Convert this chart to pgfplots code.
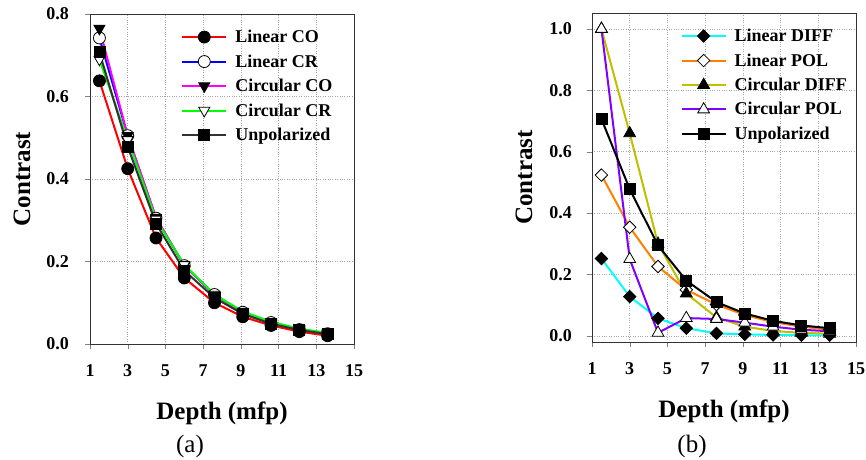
\documentclass[border=0pt]{standalone}
\usepackage{pgfplots}
\pgfplotsset{compat=1.18}
\usepackage{fontspec}
\setmainfont{Liberation Serif}

\definecolor{olivey}{RGB}{191,191,0}
\definecolor{violetp}{RGB}{128,0,255}
\definecolor{orangep}{RGB}{255,128,0}
\definecolor{cyanp}{RGB}{0,255,255}
\definecolor{magp}{RGB}{255,0,255}
\definecolor{greenp}{RGB}{0,255,0}
\definecolor{redp}{RGB}{255,0,0}
\definecolor{bluep}{RGB}{0,0,255}

\pgfplotsset{
  panel/.style={
    scale only axis,
    width=264pt,
    xmin=1, xmax=15,
    xtick={1,3,...,15},
    tick align=outside,
    xtick pos=bottom, ytick pos=left,
    major tick length=5pt,
    grid=major,
    grid style={dotted, gray!70, line width=0.6pt},
    axis line style={line width=0.8pt, black!80},
    /pgf/number format/assume math mode=true,
    tick label style={font=\fontsize{18}{18}\selectfont\bfseries},
    yticklabel style={/pgf/number format/fixed, /pgf/number format/fixed zerofill,
      /pgf/number format/precision=1},
    yticklabel style={anchor=east, inner sep=0pt, xshift=-16pt},
    xticklabel style={anchor=center, inner sep=0pt, yshift=-22pt},
    label style={font=\fontsize{25}{25}\selectfont\bfseries},
    xlabel={Depth (mfp)},
    ylabel={Contrast},
    xlabel style={at={(axis description cs:0.5,-0.23)}, anchor=base},
    ylabel style={at={(axis description cs:-0.258,0.5)}, anchor=center, rotate=0},
    legend cell align=left,
    legend style={draw=none, fill=none, inner sep=0pt,
      font=\fontsize{18}{18}\selectfont\bfseries,
      row sep=6.5pt,
      /tikz/every odd column/.append style={column sep=6pt}},
    legend image code/.code={\draw[mark repeat=2,mark phase=2,#1]
      plot coordinates {(0pt,0pt) (22pt,0pt) (44pt,0pt)};},
  },
  ser/.style={line width=2pt, mark size=#1,
    every mark/.append style={draw=black, line width=0.8pt, solid}},
  fil/.style={every mark/.append style={fill=black}},
  opn/.style={every mark/.append style={fill=white}},
  rot/.style={every mark/.append style={rotate=#1}},
}

\begin{document}
\begin{tikzpicture}
\useasboundingbox (0,0) rectangle (866pt,459pt);

\begin{axis}[panel, at={(90pt,115pt)}, anchor=south west, height=330pt,
  ymin=0, ymax=0.8, ytick={0,0.2,...,0.8},
  legend style={at={(axis description cs:0.345,0.958)}, anchor=north west}]
\addplot[redp, ser=6pt, mark=*, fil] coordinates {
  (1.5,0.638) (3.0,0.425) (4.5,0.257) (6.0,0.160) (7.6,0.100)
  (9.1,0.066) (10.6,0.045) (12.1,0.030) (13.6,0.020)};
\addlegendentry{Linear CO}
\addplot[bluep, ser=6pt, mark=*, opn] coordinates {
  (1.5,0.742) (3.0,0.505) (4.5,0.305) (6.0,0.190) (7.6,0.120)
  (9.1,0.077) (10.6,0.052) (12.1,0.035) (13.6,0.025)};
\addlegendentry{Linear CR}
\addplot[magp, ser=6.4pt, mark=triangle*, fil, rot=180] coordinates {
  (1.5,0.765) (3.0,0.505) (4.5,0.307) (6.0,0.190) (7.6,0.119)
  (9.1,0.077) (10.6,0.051) (12.1,0.035) (13.6,0.025)};
\addlegendentry{Circular CO}
\addplot[greenp, ser=6.4pt, mark=triangle*, opn, rot=180] coordinates {
  (1.5,0.690) (3.0,0.495) (4.5,0.302) (6.0,0.192) (7.6,0.120)
  (9.1,0.079) (10.6,0.054) (12.1,0.037) (13.6,0.027)};
\addlegendentry{Circular CR}
\addplot[black!80, ser=5.5pt, mark=square*, fil] coordinates {
  (1.5,0.707) (3.0,0.478) (4.5,0.292) (6.0,0.178) (7.6,0.112)
  (9.1,0.073) (10.6,0.049) (12.1,0.034) (13.6,0.024)};
\addlegendentry{Unpolarized}
\end{axis}

\begin{axis}[panel, at={(592pt,117pt)}, anchor=south west, height=329pt,
  ymin=-0.02, ymax=1.052, ytick={0,0.2,...,1.0},
  yticklabel style={xshift=1pt},
  legend style={at={(axis description cs:0.335,0.958)}, anchor=north west}]
\addplot[cyanp, ser=4.4pt, mark=square*, fil, rot=45] coordinates {
  (1.5,0.252) (3.0,0.128) (4.5,0.057) (6.0,0.025) (7.6,0.008)
  (9.1,0.005) (10.6,0.003) (12.1,0.002) (13.6,0.002)};
\addlegendentry{Linear DIFF}
\addplot[orangep, ser=4.4pt, mark=square*, opn, rot=45] coordinates {
  (1.5,0.524) (3.0,0.354) (4.5,0.226) (6.0,0.150) (7.6,0.102)
  (9.1,0.068) (10.6,0.045) (12.1,0.030) (13.6,0.020)};
\addlegendentry{Linear POL}
\addplot[olivey, ser=6.8pt, mark=triangle*, fil] coordinates {
  (1.5,1.000) (3.0,0.660) (4.5,0.300) (6.0,0.138) (7.6,0.060)
  (9.1,0.030) (10.6,0.016) (12.1,0.010) (13.6,0.007)};
\addlegendentry{Circular DIFF}
\addplot[violetp, ser=6.8pt, mark=triangle*, opn] coordinates {
  (1.5,1.000) (3.0,0.250) (4.5,0.010) (6.0,0.058) (7.6,0.055)
  (9.1,0.043) (10.6,0.030) (12.1,0.020) (13.6,0.015)};
\addlegendentry{Circular POL}
\addplot[black, ser=5.5pt, mark=square*, fil] coordinates {
  (1.5,0.707) (3.0,0.478) (4.5,0.295) (6.0,0.180) (7.6,0.110)
  (9.1,0.073) (10.6,0.049) (12.1,0.034) (13.6,0.025)};
\addlegendentry{Unpolarized}
\end{axis}

\node[anchor=base, font=\fontsize{25}{25}\selectfont] at (190pt,7pt) {(a)};
\node[anchor=base, font=\fontsize{25}{25}\selectfont] at (692pt,7pt) {(b)};
\end{tikzpicture}
\end{document}
